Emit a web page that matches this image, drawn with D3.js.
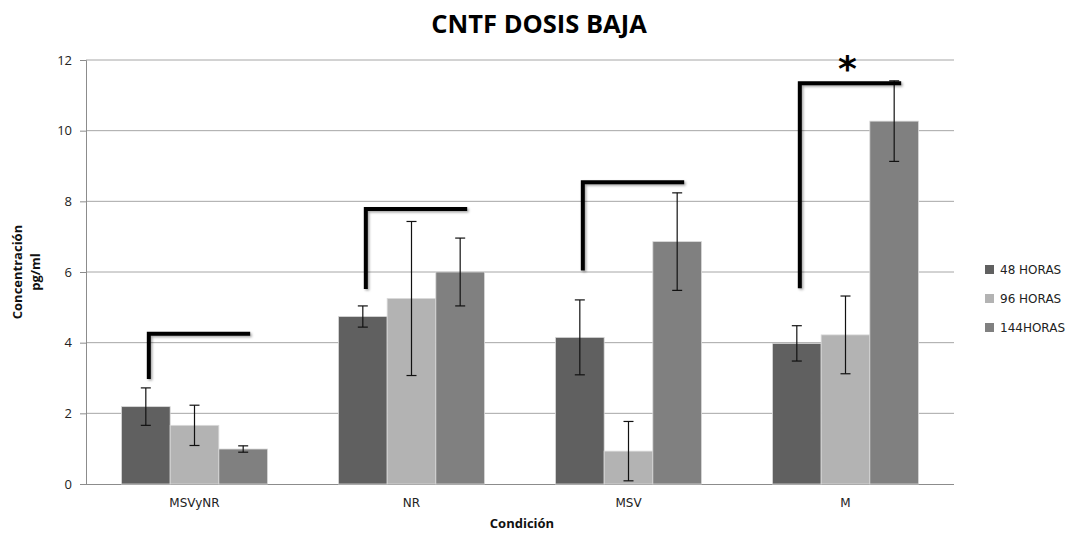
<!DOCTYPE html>
<html>
<head>
<meta charset="utf-8">
<script src="https://cdn.jsdelivr.net/npm/d3@7"></script>
<style>
  html, body { margin: 0; padding: 0; background: #fff; }
  svg { display: block; }
</style>
</head>
<body>
<svg id="chart" width="1076" height="533"></svg>
<script>
// Conditions on the x axis
const categories = ["MSVyNR", "NR", "MSV", "M"];
// Time points (series)
const seriesNames = ["48 HORAS", "96 HORAS", "144HORAS"];
// Mean concentration (pg/ml) per condition, one array per series
const values48 = [2.19, 4.74, 4.15, 3.98];
const values96 = [1.66, 5.25, 0.93, 4.22];
const values144 = [0.99, 6.00, 6.86, 10.27];
// Error bar half-widths
const err48 = [0.53, 0.30, 1.06, 0.50];
const err96 = [0.57, 2.18, 0.84, 1.10];
const err144 = [0.09, 0.96, 1.38, 1.14];
// Comparison brackets: top and bottom values per condition
const bracketTop = [4.25, 7.78, 8.54, 11.34];
const bracketBottom = [2.97, 5.52, 6.04, 5.54];
const significant = [false, false, false, true];
// Y axis ticks
const yTicks = [0, 2, 4, 6, 8, 10, 12];

const colors = ["#606060", "#b3b3b3", "#808080"];
const seriesValues = [values48, values96, values144];
const seriesErr = [err48, err96, err144];

const svg = d3.select("#chart");
const plotLeft = 86, plotRight = 954, plotTop = 60, plotBottom = 484;

const x = d3.scaleBand().domain(categories).range([plotLeft, plotRight]).paddingInner(0.327).paddingOuter(0.1635);
const xs = d3.scaleBand().domain(seriesNames).range([0, x.bandwidth()]);
const y = d3.scaleLinear().domain([0, 12]).range([plotBottom, plotTop]);

// Gridlines
svg.append("g").selectAll("line").data(yTicks.filter(d => d > 0)).join("line")
  .attr("x1", plotLeft).attr("x2", plotRight)
  .attr("y1", d => y(d)).attr("y2", d => y(d))
  .attr("stroke", "#a6a6a6").attr("stroke-width", 1);

// Y axis
const yAxis = svg.append("g").attr("transform", `translate(${plotLeft},0)`)
  .call(d3.axisLeft(y).tickValues(yTicks).tickSize(6).tickPadding(8));
yAxis.select(".domain").attr("stroke", "#8c8c8c");
yAxis.selectAll(".tick line").attr("stroke", "#8c8c8c");
yAxis.selectAll("text").attr("font-family", "'Open Sans', sans-serif").attr("font-size", 13).attr("fill", "#222");

// X axis
const xAxis = svg.append("g").attr("transform", `translate(0,${plotBottom})`)
  .call(d3.axisBottom(x).tickSize(0).tickPadding(14));
xAxis.select(".domain").attr("stroke", "#8c8c8c").attr("d", `M${plotLeft},0.5H${plotRight}`);
xAxis.selectAll("text").attr("font-family", "'DejaVu Sans', Verdana, sans-serif").attr("font-size", 12).attr("fill", "#222");

// Bars
const groups = svg.append("g").selectAll("g").data(categories).join("g")
  .attr("transform", d => `translate(${x(d)},0)`);

seriesNames.forEach((s, si) => {
  groups.append("rect")
    .attr("x", xs(s))
    .attr("width", xs.bandwidth())
    .attr("y", (d, i) => y(seriesValues[si][i]))
    .attr("height", (d, i) => y(0) - y(seriesValues[si][i]))
    .attr("fill", colors[si])
    .attr("stroke", "#d9d9d9").attr("stroke-width", 0.8);
});

// Error bars
seriesNames.forEach((s, si) => {
  const cx = xs(s) + xs.bandwidth() / 2;
  const g = groups.append("g").attr("stroke", "#111").attr("stroke-width", 1.2);
  g.append("line").attr("x1", cx).attr("x2", cx)
    .attr("y1", (d, i) => y(seriesValues[si][i] + seriesErr[si][i]))
    .attr("y2", (d, i) => y(seriesValues[si][i] - seriesErr[si][i]));
  g.append("line").attr("x1", cx - 5).attr("x2", cx + 5)
    .attr("y1", (d, i) => y(seriesValues[si][i] + seriesErr[si][i]))
    .attr("y2", (d, i) => y(seriesValues[si][i] + seriesErr[si][i]));
  g.append("line").attr("x1", cx - 5).attr("x2", cx + 5)
    .attr("y1", (d, i) => y(seriesValues[si][i] - seriesErr[si][i]))
    .attr("y2", (d, i) => y(seriesValues[si][i] - seriesErr[si][i]));
});

// Comparison brackets with soft shadow
const defs = svg.append("defs");
const f = defs.append("filter").attr("id", "shadow").attr("x", "-10%").attr("y", "-10%").attr("width", "130%").attr("height", "130%");
f.append("feDropShadow").attr("dx", 1.5).attr("dy", 1.5).attr("stdDeviation", 1.2).attr("flood-color", "#000").attr("flood-opacity", 0.35);

const bx0 = xs(seriesNames[0]) + xs.bandwidth() / 2 + 3;
const bx1 = xs(seriesNames[2]) + xs.bandwidth() / 2 + 7;
groups.append("path")
  .attr("d", (d, i) => `M${bx0},${y(bracketBottom[i])}V${y(bracketTop[i])}H${bx1}`)
  .attr("fill", "none").attr("stroke", "#000").attr("stroke-width", 4)
  .attr("stroke-linejoin", "miter").attr("filter", "url(#shadow)");

groups.filter((d, i) => significant[i]).append("text")
  .attr("x", x.bandwidth() / 2 + 2)
  .attr("y", d => y(bracketTop[categories.indexOf(d)]) - 2)
  .attr("text-anchor", "middle")
  .attr("font-family", "'DejaVu Sans', sans-serif").attr("font-size", 36).attr("font-weight", "bold")
  .attr("fill", "#000").text("*");

// Legend
const legend = svg.append("g").attr("transform", "translate(985,270)");
seriesNames.forEach((s, si) => {
  const g = legend.append("g").attr("transform", `translate(0,${si * 29})`);
  g.append("rect").attr("x", 0).attr("y", -5).attr("width", 9).attr("height", 9).attr("fill", colors[si]);
  g.append("text").attr("x", 15).attr("y", 0).attr("dy", "0.35em")
    .attr("font-family", "'DejaVu Sans', Verdana, sans-serif").attr("font-size", 12).attr("fill", "#222").text(s);
});

// Title
svg.append("text").attr("x", 539).attr("y", 33).attr("text-anchor", "middle")
  .attr("font-family", "'Open Sans', sans-serif").attr("font-weight", "bold").attr("font-size", 25.5)
  .attr("fill", "#000").text("CNTF DOSIS BAJA");

// Axis titles
svg.append("text").attr("x", 522).attr("y", 528).attr("text-anchor", "middle")
  .attr("font-family", "'Open Sans', sans-serif").attr("font-weight", "bold").attr("font-size", 13)
  .attr("fill", "#111").text("Condición");

const yt = svg.append("text").attr("transform", "translate(0,272) rotate(-90)")
  .attr("text-anchor", "middle")
  .attr("font-family", "'Open Sans', sans-serif").attr("font-weight", "bold").attr("font-size", 13)
  .attr("fill", "#111");
yt.append("tspan").attr("x", 0).attr("y", 22).text("Concentración");
yt.append("tspan").attr("x", 0).attr("y", 40).text("pg/ml");
</script>
</body>
</html>
